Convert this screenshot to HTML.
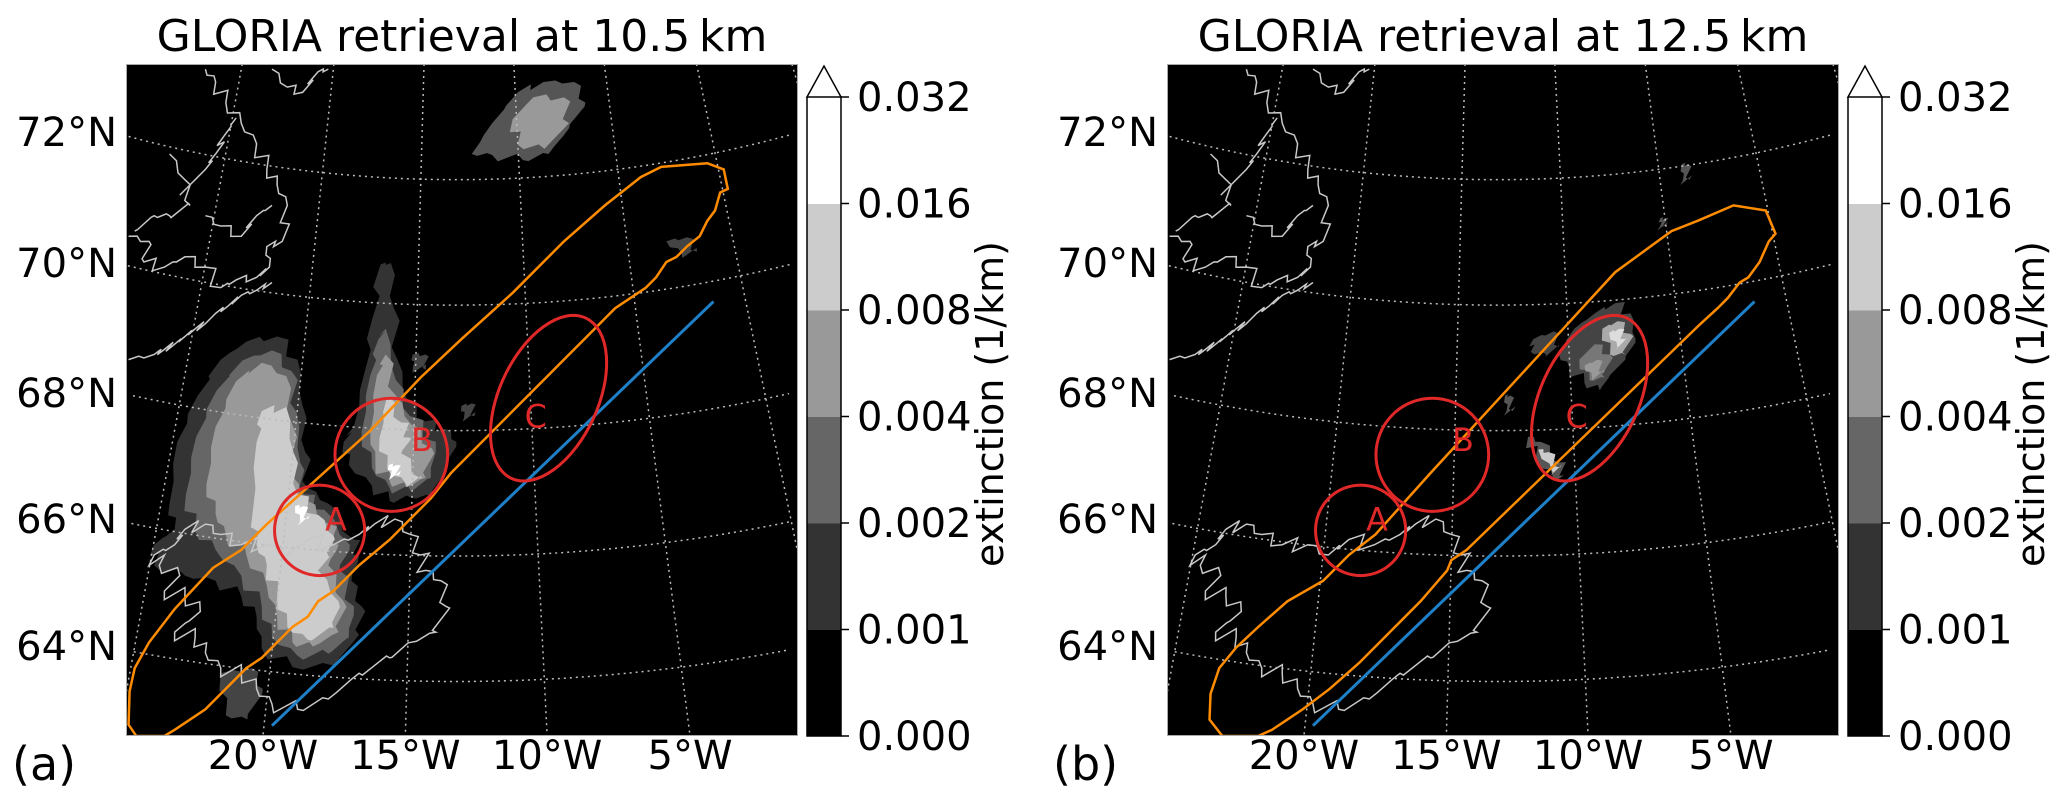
<!DOCTYPE html>
<html><head><meta charset="utf-8"><title>GLORIA retrieval</title>
<style>
html,body{margin:0;padding:0;background:#fff;overflow:hidden;width:2067px;height:802px;}
svg{display:block;}
svg text{font-family:"DejaVu Sans","Liberation Sans",sans-serif;fill:#000;}
</style></head>
<body>
<svg id="fig" xmlns="http://www.w3.org/2000/svg" width="2067" height="802" viewBox="0 0 2067 802">
  <rect width="2067" height="802" fill="#fff"/>
  <g id="panelA"></g>
  <g id="panelB" transform="translate(1041,0)"></g>
</svg>
<script>
// ---- data ----
const cbLevels = [0, 0.001, 0.002, 0.004, 0.008, 0.016, 0.032];
const cbColors = ["#000000", "#333333", "#666666", "#999999", "#cccccc", "#ffffff"];
const cbTickLabels = ["0.000", "0.001", "0.002", "0.004", "0.008", "0.016", "0.032"];
const latTicks = [72, 70, 68, 66, 64];
const latLabelY = [146, 277, 407, 533, 660];
const lonTicks = [-20, -15, -10, -5];
const panelTitles = ["GLORIA retrieval at 10.5\u2009km", "GLORIA retrieval at 12.5\u2009km"];
const panelLetters = ["(a)", "(b)"];

const NS = "http://www.w3.org/2000/svg";
function mk(tag, attrs, parent){const e=document.createElementNS(NS,tag);for(const k in attrs)e.setAttribute(k,attrs[k]);if(parent)parent.appendChild(e);return e;}

const poleX=890, poleY=-2130, n=0.89, lon0=-13.2;
const MX0=245, MY0=125, MX1=1557, MY1=1432;
function R(lat){return 2480+(72-lat)*122;}
function proj(lon,lat){const th=n*(lon-lon0)*Math.PI/180;const r=R(lat);return [poleX+r*Math.sin(th), poleY+r*Math.cos(th)];}
function ptsStr(a){return a.map(p=>p.map(v=>v.toFixed(1)).join(',')).join(' ');}
function inside(p){return p[0]>=MX0&&p[0]<=MX1&&p[1]>=MY0&&p[1]<=MY1;}

const plumeA = [
 ["#333333","330,980 345,860 385,770 430,700 480,665 540,655 580,700 590,790 595,880 600,950 640,980 690,1050 700,1080 685,1130 705,1180 700,1235 650,1295 570,1298 510,1262 500,1200 470,1160 420,1130 360,1120 300,1100 300,1060 340,1030"],
 ["#666666","362,962 382,850 422,760 472,702 530,682 568,722 578,802 585,900 592,962 632,992 682,1060 662,1110 690,1180 680,1240 640,1272 580,1276 530,1240 510,1180 470,1120 420,1070 380,1032"],
 ["#999999","402,942 420,830 460,742 510,706 558,732 568,822 574,932 592,972 642,1020 660,1060 640,1100 670,1170 660,1230 610,1258 570,1250 540,1200 520,1140 480,1080 440,1040 420,1000"],
 ["#cccccc","492,1000 500,860 510,800 558,792 572,880 580,962 620,1002 650,1042 640,1082 622,1112 660,1170 650,1222 600,1245 560,1220 540,1160 520,1100 500,1060"],
 ["#ffffff","575,985 592,985 600,1010 585,1015"],
 ["#333333","690,830 712,720 726,620 742,515 762,512 768,600 775,700 795,780 830,820 870,835 890,860 872,905 842,965 800,968 760,975 725,945 680,905 670,860"],
 ["#666666","705,840 722,730 738,660 752,640 772,740 800,810 850,860 840,930 800,955 760,950 725,910"],
 ["#999999","722,842 735,730 752,690 772,770 802,826 842,872 830,930 792,948 760,938 732,902"],
 ["#cccccc","740,852 755,772 782,822 802,852 782,882 822,932 792,942 755,912"],
 ["#ffffff","758,905 774,905 778,925 762,925"],
 ["#555555","920,300 960,240 1010,180 1060,160 1120,160 1142,200 1110,250 1070,300 1020,312 960,302"],
 ["#999999","1000,232 1040,190 1100,190 1110,240 1062,290 1010,282"],
 ["#444444","430,1310 490,1300 512,1340 482,1400 440,1392"],
 ["#444444","1300,470 1340,462 1360,490 1330,495"],
 ["#444444","805,690 830,690 830,720 805,715"],
 ["#444444","900,790 920,785 925,810 905,812"]
];
const plumeB = [
 ["#444444","1040,640 1080,610 1120,590 1150,610 1160,660 1140,700 1110,730 1090,760 1060,745 1030,715 1010,690"],
 ["#444444","960,660 1000,645 1010,675 985,690 955,685"],
 ["#777777","1050,700 1080,670 1110,690 1100,735 1070,740"],
 ["#aaaaaa","1095,640 1125,625 1150,650 1140,690 1110,690"],
 ["#dddddd","1108,648 1128,640 1140,660 1125,678"],
 ["#999999","1060,712 1085,700 1098,725 1075,735"],
 ["#555555","950,850 975,860 1010,900 1025,925 1000,935 965,890"],
 ["#cccccc","970,875 990,880 1012,910 998,920"],
 ["#555555","1250,320 1262,320 1265,350 1252,352"],
 ["#555555","1208,425 1218,425 1218,440 1208,440"],
 ["#555555","905,770 915,770 920,800 908,800"]
];
const orangeA = "265,1432 250,1410 252,1345 262,1300 290,1250 340,1185 415,1105 470,1070 520,1020 620,930 720,840 820,735 900,660 1000,570 1100,470 1180,400 1250,345 1290,325 1380,318 1412,330 1420,368 1405,375 1395,410 1380,430 1365,460 1340,480 1320,500 1300,510 1280,540 1260,560 1230,580 1200,600 1180,620 1140,660 1100,700 1060,740 1000,800 940,860 880,920 840,970 800,1010 760,1050 700,1100 650,1150 620,1170 600,1200 570,1220 540,1250 510,1280 480,1300 450,1330 420,1360 400,1380 370,1400 340,1420 320,1432";
const orangeB = "353,1432 328,1400 330,1350 347,1300 380,1260 423,1220 480,1170 550,1130 600,1080 652,1040 760,920 880,790 1000,660 1120,530 1230,450 1281,430 1351,400 1414,410 1433,455 1420,470 1402,510 1380,540 1363,550 1340,580 1320,600 1287,630 830,1070 800,1090 792,1110 740,1170 680,1230 620,1290 563,1340 510,1380 480,1400 450,1420 423,1432";
const greenland = [
 "250,700 300,690 320,680 340,670 360,655 380,640 400,630 420,610 445,595 470,575 500,565 530,550",
 "250,460 290,470 280,510 320,520 360,500 400,520 430,560 460,545 500,540 525,520 520,480 550,470 560,400 540,360 520,330 500,280 470,240 440,200 420,160 400,135",
 "530,135 560,170 590,180 620,140 640,135",
 "330,300 360,350 370,400 330,420 300,420 262,450",
 "350,380 400,330 420,300 440,260 460,230",
 "400,420 430,440 470,460 500,420 530,400"
];
const iceland = "300,1080 340,1060 360,1030 400,1020 430,1040 470,1060 520,1060 560,1080 600,1050 650,1060 700,1040 730,1020 770,1010 800,1040 820,1080 830,1110 860,1130 870,1180 850,1230 800,1250 760,1280 700,1310 640,1360 580,1380 530,1370 500,1340 470,1310 430,1300 400,1270 380,1240 340,1230 390,1190 360,1160 320,1150 350,1120 310,1100";
function jag(str,amp){const p=str.split(' ').map(s=>s.split(',').map(Number));const out=[];for(let i=0;i<p.length;i++){const a=p[i],b=p[(i+1)%p.length];out.push(a);for(let k=1;k<3;k++){const t=k/3;const s=(k%2?1:-1)*amp*((i%3)+1)/2;out.push([a[0]+(b[0]-a[0])*t+s,a[1]+(b[1]-a[1])*t-s]);}}return ptsStr(out);}

const cbTop=97, cbBot=736, cbX=807, cbW=34;
function cbY(i){return cbBot-(cbBot-cbTop)*i/(cbLevels.length-1);}

function buildPanel(g, idx){
  const plume = idx===0?plumeA:plumeB;
  const orange = idx===0?orangeA:orangeB;
  const t=mk('text',{x:462,y:51,'font-size':44,'text-anchor':'middle'},g);
  t.textContent=panelTitles[idx];
  
  
  const L=mk('text',{x:12,y:780,'font-size':46},g);
  L.textContent=panelLetters[idx];
  
  

  const m=mk('svg',{x:126,y:64,width:672,height:672,viewBox:'245 125 1312 1307',preserveAspectRatio:'none',overflow:'hidden'},g);
  
  
  mk('rect',{x:MX0,y:MY0,width:MX1-MX0,height:MY1-MY0,fill:'#000'},m);
  const pg=mk('g',{},m);
  
  
  plume.forEach(p=>{mk('polygon',{points:jag(p[1],6),fill:p[0]},pg);});
  const gg=mk('g',{fill:'none',stroke:'#bbbbbb','stroke-width':1.5,'stroke-dasharray':'2 4'},m);
  
  
  for(let lat=64;lat<=72;lat+=2){const pts=[];for(let lon=-30;lon<=5;lon+=0.5){const p=proj(lon,lat);if(inside(p))pts.push(p);}
    const pl=mk('polyline',{points:ptsStr(pts),'vector-effect':'non-scaling-stroke'},gg);
    
    }
  for(let lon=-25;lon<=5;lon+=5){const th=n*(lon-lon0)*Math.PI/180;
    const pts=[];for(let y=MY0;y<=MY1;y+=MY1-MY0){pts.push([poleX+(y-poleY)*Math.tan(th),y]);}
    const q=pts.filter(p=>p[0]>=MX0&&p[0]<=MX1);
    if(q.length<2){const a=pts[0],b=pts[1];const xe=a[0]<MX0||b[0]<MX0?MX0:MX1;const ye=poleY+(xe-poleX)/Math.tan(th);
      if(q.length===1)q.push([xe,ye]);else continue;}
    const pl=mk('polyline',{points:ptsStr(q),'vector-effect':'non-scaling-stroke'},gg);
    
    }
  const cg=mk('g',{fill:'none',stroke:'#c8c8c8','stroke-width':1.5},m);
  
  
  greenland.forEach(s=>{mk('polyline',{points:jag(s,7).split(' ').slice(0,-2).join(' '),'vector-effect':'non-scaling-stroke'},cg);});
  mk('polygon',{points:jag(iceland,9),'vector-effect':'non-scaling-stroke'},cg);
  const op=mk('polygon',{points:orange,fill:'none',stroke:'#ff8c00','stroke-width':2.5,'vector-effect':'non-scaling-stroke'},m);
  
  
  const bl=mk('line',{x1:530,y1:1412,x2:1392,y2:587,stroke:'#1f80c8','stroke-width':3,'vector-effect':'non-scaling-stroke'},m);
  
  
  const rg=mk('g',{fill:'none',stroke:'#e02828','stroke-width':3},m);
  
  
  const cA=mk('ellipse',{cx:623,cy:1032,rx:88,ry:88,'vector-effect':'non-scaling-stroke'},rg);
  
  
  const cB=mk('ellipse',{cx:763,cy:885,rx:110,ry:110,'vector-effect':'non-scaling-stroke'},rg);
  
  
  const cC=mk('ellipse',{cx:1070,cy:775,rx:96,ry:172,transform:'rotate(25 1070 775)','vector-effect':'non-scaling-stroke'},rg);
  
  
  [['A',655,1032],['B',823,878],['C',1045,832]].forEach(d=>{
    const tx=mk('text',{x:d[1],y:d[2],'font-size':62,'text-anchor':'middle',style:'fill:#e02828'},m);
    tx.textContent=d[0];
    
    
  });
  mk('rect',{x:MX0,y:MY0,width:MX1-MX0,height:MY1-MY0,fill:'none',stroke:'#aaa','stroke-width':2,'vector-effect':'non-scaling-stroke'},m);

  latTicks.forEach((lat,i)=>{const tx=mk('text',{x:117,y:latLabelY[i],'font-size':40,'text-anchor':'end'},g);
    tx.textContent=lat+'\u00b0N';
    
    });
  lonTicks.forEach(lon=>{const th=n*(lon-lon0)*Math.PI/180;
    const xm=poleX+(MY1-poleY)*Math.tan(th);const xp=126+(xm-MX0)*672/1312;
    const tx=mk('text',{x:xp,y:769,'font-size':40,'text-anchor':'middle'},g);
    tx.textContent=Math.abs(lon)+'\u00b0W';
    
    });

  const cb=mk('g',{},g);
  
  
  for(let i=0;i<cbColors.length;i++){
    const r=mk('rect',{x:cbX,y:cbY(i+1),width:cbW,height:cbY(i)-cbY(i+1)+0.5,fill:cbColors[i]},cb);
    
    
  }
  const tri=mk('polygon',{points:`${cbX},${cbTop} ${cbX+cbW/2},66 ${cbX+cbW},${cbTop}`,fill:'#fff',stroke:'#000','stroke-width':1.5},cb);
  
  
  mk('polyline',{points:`${cbX},${cbTop} ${cbX},${cbBot} ${cbX+cbW},${cbBot} ${cbX+cbW},${cbTop}`,fill:'none',stroke:'#000','stroke-width':1.5},cb);
  cbTickLabels.forEach((lab,i)=>{const y=cbY(i);
    mk('line',{x1:cbX+cbW,y1:y,x2:cbX+cbW+8,y2:y,stroke:'#000','stroke-width':1.5},cb);
    const tx=mk('text',{x:857,y:y+14,'font-size':40},cb);
    tx.textContent=lab;
    
    });
  const cl=mk('text',{x:0,y:0,'font-size':38,'text-anchor':'middle',transform:`translate(1003,404) rotate(-90)`,textLength:326,lengthAdjust:'spacingAndGlyphs'},cb);
  cl.textContent='extinction (1/km)';
  
  
}
buildPanel(document.getElementById('panelA'),0);
buildPanel(document.getElementById('panelB'),1);
</script>
</body></html>
